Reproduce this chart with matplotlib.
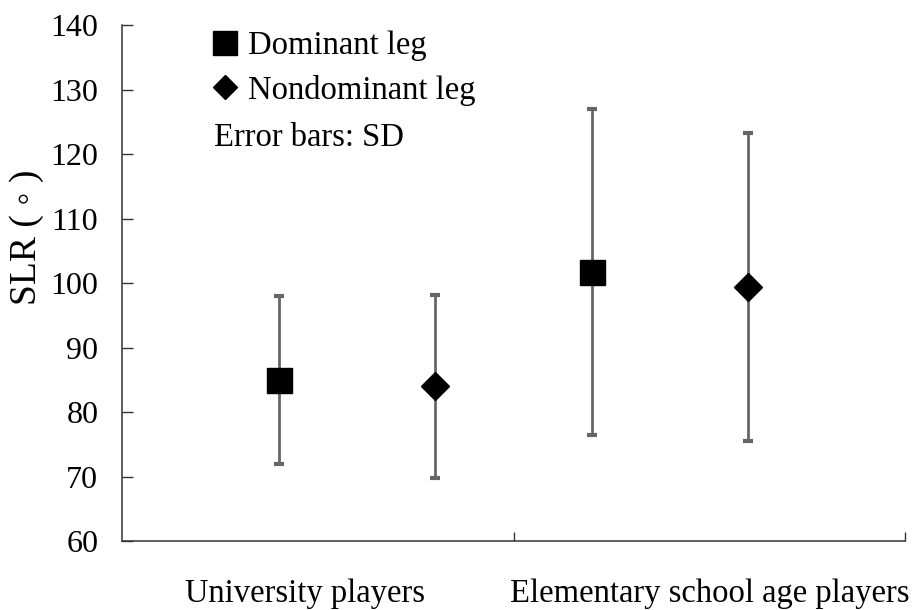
import numpy as np
import matplotlib
matplotlib.use("Agg")
import matplotlib.pyplot as plt
from matplotlib.lines import Line2D

plt.rcParams['font.family'] = ['Liberation Serif', 'DejaVu Serif']

# data
groups = ["University players", "Elementary school age players"]
series = ["Dominant leg", "Nondominant leg"]
dominant_mean = [85.0, 101.7]
dominant_sd = [13.0, 25.3]
nondominant_mean = [84.0, 99.4]
nondominant_sd = [14.2, 23.9]

yticks = [60, 70, 80, 90, 100, 110, 120, 130, 140]

dom_x = np.array([1, 3])
nd_x = np.array([2, 4])

fig = plt.figure(figsize=(9.17, 6.10), dpi=100)
ax = fig.add_axes([0.133, 0.113, 0.854, 0.846])

err_col = '#666666'
ax.errorbar(dom_x, dominant_mean, yerr=dominant_sd, fmt='s', color='black',
            ms=18, ecolor=err_col, elinewidth=2.0, capsize=3.5, capthick=3,
            zorder=3)
ax.errorbar(nd_x, nondominant_mean, yerr=nondominant_sd, fmt='D', color='black',
            ms=14, ecolor=err_col, elinewidth=2.0, capsize=3.5, capthick=3,
            zorder=3)

ax.set_xlim(0, 5)
ax.set_ylim(60, 140)
ax.set_yticks(yticks)
ax.tick_params(axis='y', direction='in', length=8, width=1.0, labelsize=23,
               pad=17, colors='#333333', labelcolor='black')

# group separators on x axis, labels in between
ax.set_xticks([2.5, 5])
ax.set_xticklabels(['', ''])
ax.tick_params(axis='x', which='major', direction='in', length=6.5, width=1.0,
               colors='#333333')
ax.set_xticks([1.17, 3.75], minor=True)
ax.set_xticklabels(groups, minor=True)
ax.tick_params(axis='x', which='minor', length=0, labelsize=23.5, pad=27)

for s in ['top', 'right']:
    ax.spines[s].set_visible(False)
for s in ['left', 'bottom']:
    ax.spines[s].set_color('#333333')
    ax.spines[s].set_linewidth(1.1)

ax.set_ylabel('SLR ( \u25e6 )', fontsize=27)
ax.yaxis.set_label_coords(-0.1, 0.589)

handles = [Line2D([], [], marker='s', ls='none', color='black', ms=17),
           Line2D([], [], marker='D', ls='none', color='black', ms=12)]
leg = ax.legend(handles, series, loc='upper left', bbox_to_anchor=(0.082, 1.027),
                frameon=False, fontsize=23.5, handletextpad=0.1,
                labelspacing=0.42, handlelength=1.2, borderaxespad=0.2)
ax.text(0.118, 0.782, 'Error bars: SD', transform=ax.transAxes, fontsize=23.5,
        va='center', ha='left')

fig.savefig('out.png', dpi=100)
